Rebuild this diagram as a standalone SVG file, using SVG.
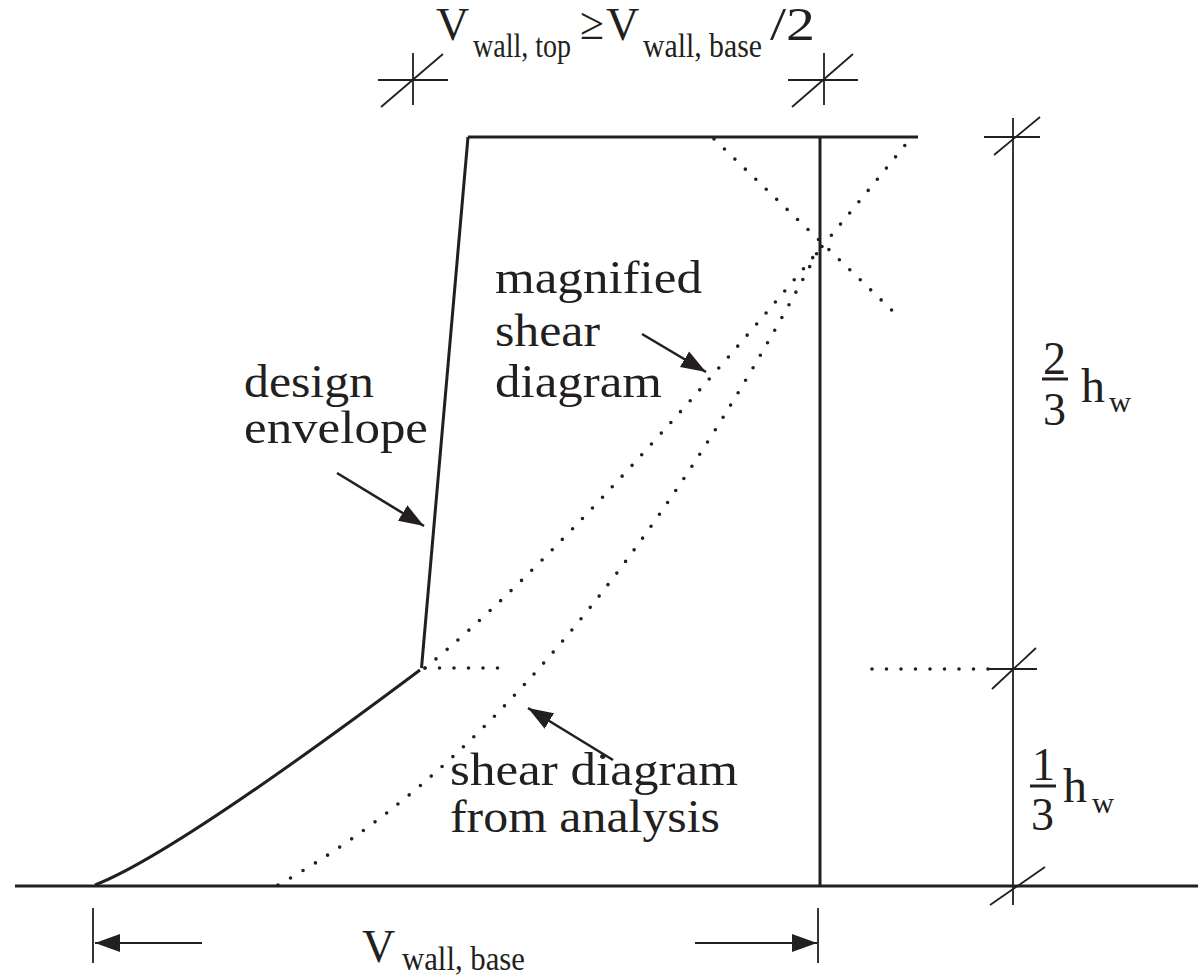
<svg xmlns="http://www.w3.org/2000/svg" width="1198" height="975" viewBox="0 0 1198 975">
<style>
.t{font-family:"Liberation Serif","Times New Roman",serif;fill:#231f20}
.big{font-size:46px}
.sub{font-size:34px}
.solid{stroke:#231f20;fill:none;stroke-width:3}
.dim{stroke:#231f20;fill:none;stroke-width:1.8}
.dot{stroke:#231f20;fill:none;stroke-width:3.6;stroke-linecap:round;stroke-dasharray:0 14.5}
.arr{stroke:#231f20;fill:none;stroke-width:2.6}
</style>
<defs>
<marker id="ah" markerUnits="userSpaceOnUse" markerWidth="26" markerHeight="20" viewBox="0 0 26 20" refX="25" refY="10" orient="auto">
<path d="M0,1 L25,10 L0,19 z" fill="#231f20"/>
</marker>
</defs>
<rect width="1198" height="975" fill="#fff"/>

<g id="wall">
<line class="solid" x1="15" y1="886" x2="1198" y2="886"/>
<line class="solid" x1="820" y1="137" x2="820" y2="886"/>
<line class="solid" x1="468" y1="137" x2="820" y2="137" stroke-width="2.6"/>
<line class="solid" x1="820" y1="137" x2="918" y2="137" stroke-width="3.6"/>
</g>

<g id="design-envelope">
<line class="solid" x1="468" y1="137" x2="421.5" y2="668"/>
<path class="solid" d="M95,885 Q173,855 420,670"/>
</g>

<g id="dotted-lines">
<path class="dot" d="M425,668 L500,668"/>
<path class="dot" d="M872,669 L992,669"/>
<path class="dot" d="M714,139 L902,320"/>
<path class="dot" d="M425,668 Q595,529 910,139"/>
<path class="dot" d="M278,885 Q568,725 818,251"/>
</g>

<g id="connectors">
<line class="arr" x1="337" y1="473" x2="424" y2="526" marker-end="url(#ah)"/>
<line class="arr" x1="642" y1="334" x2="706" y2="372" marker-end="url(#ah)"/>
<line class="arr" x1="613" y1="760" x2="528" y2="708" marker-end="url(#ah)"/>
<line class="dim" x1="202" y1="943" x2="95" y2="943" marker-end="url(#ah)"/>
<line class="dim" x1="695" y1="943" x2="817" y2="943" marker-end="url(#ah)"/>
</g>

<g id="bottom-dimension">
<line class="dim" x1="93" y1="908" x2="93" y2="963"/>
<line class="dim" x1="818" y1="908" x2="818" y2="963"/>
<text class="t" x="362" y="962" font-size="46">V<tspan x="402" y="970" font-size="34" textLength="123" lengthAdjust="spacingAndGlyphs">wall, base</tspan></text>
</g>

<g id="top-dimension">
<line class="dim" x1="378" y1="80" x2="448" y2="80"/>
<line class="dim" x1="413" y1="53" x2="413" y2="105"/>
<line class="dim" x1="381" y1="107" x2="443" y2="54"/>
<line class="dim" x1="788" y1="80" x2="858" y2="80"/>
<line class="dim" x1="824" y1="53" x2="824" y2="105"/>
<line class="dim" x1="792" y1="107" x2="853" y2="54"/>
<text class="t" x="436" y="40" font-size="46">V<tspan x="473" y="57" font-size="34" textLength="98" lengthAdjust="spacingAndGlyphs">wall, top</tspan><tspan x="580" y="39" font-size="46" textLength="24" lengthAdjust="spacingAndGlyphs">≥</tspan><tspan x="606" y="40">V</tspan><tspan x="643" y="57" font-size="34" textLength="119" lengthAdjust="spacingAndGlyphs">wall, base</tspan><tspan x="770" y="40" textLength="45" lengthAdjust="spacingAndGlyphs">/2</tspan></text>
</g>

<g id="height-dimension">
<line class="dim" x1="1013" y1="118" x2="1013" y2="905"/>
<line class="dim" x1="984" y1="137" x2="1040" y2="137"/>
<line class="dim" x1="994" y1="155" x2="1040" y2="117"/>
<line class="dim" x1="989" y1="669" x2="1037" y2="669"/>
<line class="dim" x1="992" y1="689" x2="1036" y2="648"/>
<line class="dim" x1="990" y1="905" x2="1045" y2="867"/>
<text class="t" x="1043" y="374" font-size="46">2</text>
<line x1="1042" y1="379" x2="1068" y2="379" stroke="#231f20" stroke-width="3"/>
<text class="t" x="1043" y="425" font-size="46">3</text>
<text class="t" x="1081" y="402" font-size="48">h<tspan x="1109" y="412" font-size="30" textLength="22" lengthAdjust="spacingAndGlyphs">w</tspan></text>
<text class="t" x="1032" y="780" font-size="46">1</text>
<line x1="1030" y1="786" x2="1056" y2="786" stroke="#231f20" stroke-width="3"/>
<text class="t" x="1031" y="830" font-size="46">3</text>
<text class="t" x="1063" y="802" font-size="48">h<tspan x="1092" y="813" font-size="30" textLength="22" lengthAdjust="spacingAndGlyphs">w</tspan></text>
</g>

<g id="label-magnified">
<text class="t big" x="495" y="293" textLength="207" lengthAdjust="spacingAndGlyphs">magnified</text>
<text class="t big" x="495" y="346" textLength="105" lengthAdjust="spacingAndGlyphs">shear</text>
<text class="t big" x="495" y="397" textLength="167" lengthAdjust="spacingAndGlyphs">diagram</text>
</g>

<g id="label-design">
<text class="t big" x="244" y="397" textLength="130" lengthAdjust="spacingAndGlyphs">design</text>
<text class="t big" x="244" y="443" textLength="184" lengthAdjust="spacingAndGlyphs">envelope</text>
</g>

<g id="label-analysis">
<text class="t big" x="450" y="785" textLength="288" lengthAdjust="spacingAndGlyphs">shear diagram</text>
<text class="t big" x="450" y="832" textLength="270" lengthAdjust="spacingAndGlyphs">from analysis</text>
</g>
</svg>
